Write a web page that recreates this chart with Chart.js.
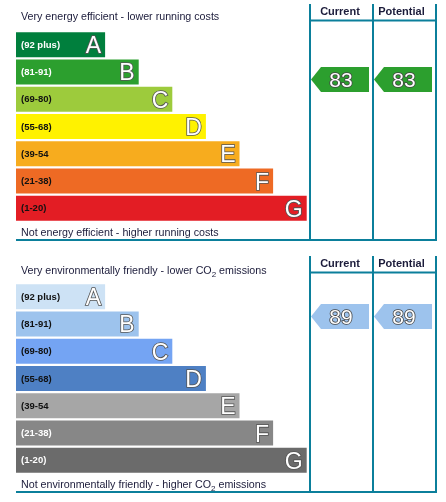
<!DOCTYPE html>
<html>
<head>
<meta charset="utf-8">
<script src="https://cdn.jsdelivr.net/npm/chart.js@4/dist/chart.umd.min.js"></script>
<style>
    body { margin: 0; background: #fff; }
    .wrap { position: absolute; left: 0; width: 446px; height: 250px; }
</style>
</head>
<body>
<div class="wrap" style="top:0"><canvas id="energyCanvas" width="446" height="250"></canvas></div>
<div class="wrap" style="top:252px"><canvas id="co2Canvas" width="446" height="250"></canvas></div>
<script>
// bands of the rating
var bands = ["A", "B", "C", "D", "E", "F", "G"];
var bandRanges = ["(92 plus)", "(81-91)", "(69-80)", "(55-68)", "(39-54", "(21-38)", "(1-20)"];
var bandMin = [92, 81, 69, 55, 39, 21, 1];
var bandMax = [100, 91, 80, 68, 54, 38, 20];
var bandRank = [1, 2, 3, 4, 5, 6, 7];

// ratings
var energyCurrent = 83;
var energyPotential = 83;
var co2Current = 89;
var co2Potential = 89;

var energyColours = ["#007f3d", "#2c9f2e", "#9dcb3c", "#fff200", "#f7ac1e", "#ee6a24", "#e31d24"];
var co2Colours = ["#cde2f5", "#9dc3ed", "#74a4f3", "#4e80c4", "#a6a6a6", "#878787", "#6b6b6b"];
var energyLabelColours = ["#fff", "#fff", "#111", "#111", "#111", "#111", "#111"];
var co2LabelColours = ["#111", "#111", "#111", "#111", "#111", "#fff", "#fff"];

var FONT = '"Liberation Sans", Arial, sans-serif';
var FRAME = "#0b7f9b";
var X_MIN = -1.652;
var X_MAX = 10.848;

function bandOf(score) {
    for (var i = 0; i < bandMin.length; i++) {
        if (score >= bandMin[i]) return i;
    }
    return bandMin.length - 1;
}

// text with "2" written as subscript after CO
function drawRich(ctx, text, x, y) {
    var parts = text.split("CO2");
    ctx.textAlign = "left";
    ctx.textBaseline = "middle";
    for (var i = 0; i < parts.length; i++) {
        ctx.font = "10.7px " + FONT;
        ctx.fillText(parts[i], x, y);
        x += ctx.measureText(parts[i]).width;
        if (i < parts.length - 1) {
            ctx.fillText("CO", x, y);
            x += ctx.measureText("CO").width;
            ctx.font = "8px " + FONT;
            ctx.fillText("2", x, y + 4);
            x += ctx.measureText("2").width;
        }
    }
}

function drawArrow(ctx, left, right, yc, h, colour, text) {
    ctx.beginPath();
    ctx.moveTo(left, yc);
    ctx.lineTo(left + 10, yc - h / 2);
    ctx.lineTo(right, yc - h / 2);
    ctx.lineTo(right, yc + h / 2);
    ctx.lineTo(left + 10, yc + h / 2);
    ctx.closePath();
    ctx.fillStyle = colour;
    ctx.fill();

    ctx.font = "21px " + FONT;
    ctx.textAlign = "center";
    ctx.textBaseline = "alphabetic";
    ctx.lineWidth = 1.6;
    ctx.strokeStyle = "#444";
    ctx.strokeText(text, (left + right) / 2 + 1, yc + 7.7);
    ctx.fillStyle = "#fff";
    ctx.fillText(text, (left + right) / 2 + 1, yc + 7.7);
}

var epcPlugin = {
    id: "epcPlugin",
    afterDatasetsDraw: function (chart, args, opts) {
        var ctx = chart.ctx;
        var ca = chart.chartArea;
        var bars = chart.getDatasetMeta(0).data;
        var i;
        ctx.save();

        // range labels and letters
        for (i = 0; i < bars.length; i++) {
            var b = bars[i];
            ctx.font = "bold 9.5px " + FONT;
            ctx.fillStyle = opts.labelColours[i];
            ctx.textAlign = "left";
            ctx.textBaseline = "middle";
            ctx.fillText(bandRanges[i], ca.left + 5, b.y + 0.5);

            ctx.font = "23px " + FONT;
            ctx.textAlign = "right";
            ctx.textBaseline = "alphabetic";
            ctx.lineWidth = 1.6;
            ctx.strokeStyle = "#555";
            ctx.strokeText(bands[i], b.x - 4, b.y + 8.5);
            ctx.fillStyle = "#fff";
            ctx.fillText(bands[i], b.x - 4, b.y + 8.5);
        }

        // frame
        var c1 = ca.right - 126, c2 = ca.right - 63, c3 = ca.right;
        var top = ca.top - 27, bottom = ca.bottom + 18;
        ctx.strokeStyle = FRAME;
        ctx.lineWidth = 2;
        ctx.beginPath();
        [c1, c2, c3].forEach(function (x) {
            ctx.moveTo(x, top);
            ctx.lineTo(x, bottom);
        });
        ctx.moveTo(c1, ca.top - 10.5);
        ctx.lineTo(c3, ca.top - 10.5);
        ctx.moveTo(ca.left, bottom);
        ctx.lineTo(c3 + 1, bottom);
        ctx.stroke();

        // headers
        ctx.font = "bold 11px " + FONT;
        ctx.fillStyle = "#1b1b3a";
        ctx.textAlign = "center";
        ctx.textBaseline = "middle";
        ctx.fillText("Current", (c1 + c2) / 2 - 1.5, ca.top - 19);
        ctx.fillText("Potential", (c2 + c3) / 2 - 3, ca.top - 19);

        // captions
        ctx.fillStyle = "#1b1b3a";
        drawRich(ctx, opts.topText, ca.left + 5, ca.top - opts.topGap);
        drawRich(ctx, opts.bottomText, ca.left + 5, ca.bottom + 11);

        // rating arrows
        [[opts.current, c1, c2], [opts.potential, c2, c3]].forEach(function (r) {
            var k = bandOf(r[0]);
            var bar = bars[k];
            var frac = (bandMax[k] - r[0]) / (bandMax[k] - bandMin[k]);
            var yc = bar.y + (frac - 0.5) * bar.height;
            drawArrow(ctx, r[1] + 1, r[2] - 4, yc, bar.height, opts.colours[k], String(r[0]));
        });

        ctx.restore();
    }
};

function makeChart(id, colours, labelColours, current, potential, topText, bottomText, topGap) {
    var ctx = document.getElementById(id);
    return new Chart(ctx, {
        type: "bar",
        data: {
            labels: bands,
            datasets: [{
                data: bandRank,
                base: X_MIN,
                backgroundColor: colours,
                borderWidth: 0,
                barPercentage: 0.916,
                categoryPercentage: 1
            }]
        },
        options: {
            indexAxis: "y",
            responsive: false,
            animation: false,
            layout: { padding: { left: 16, right: 10, top: 31, bottom: 28 } },
            scales: {
                x: { type: "linear", min: X_MIN, max: X_MAX, display: false },
                y: { display: false }
            },
            plugins: {
                legend: { display: false },
                tooltip: { enabled: false },
                epcPlugin: {
                    colours: colours,
                    labelColours: labelColours,
                    current: current,
                    potential: potential,
                    topText: topText,
                    bottomText: bottomText,
                    topGap: topGap
                }
            }
        },
        plugins: [epcPlugin]
    });
}

makeChart("energyCanvas", energyColours, energyLabelColours, energyCurrent, energyPotential,
    "Very energy efficient - lower running costs",
    "Not energy efficient - higher running costs", 14);

makeChart("co2Canvas", co2Colours, co2LabelColours, co2Current, co2Potential,
    "Very environmentally friendly - lower CO2 emissions",
    "Not environmentally friendly - higher CO2 emissions", 12);
</script>
</body>
</html>
